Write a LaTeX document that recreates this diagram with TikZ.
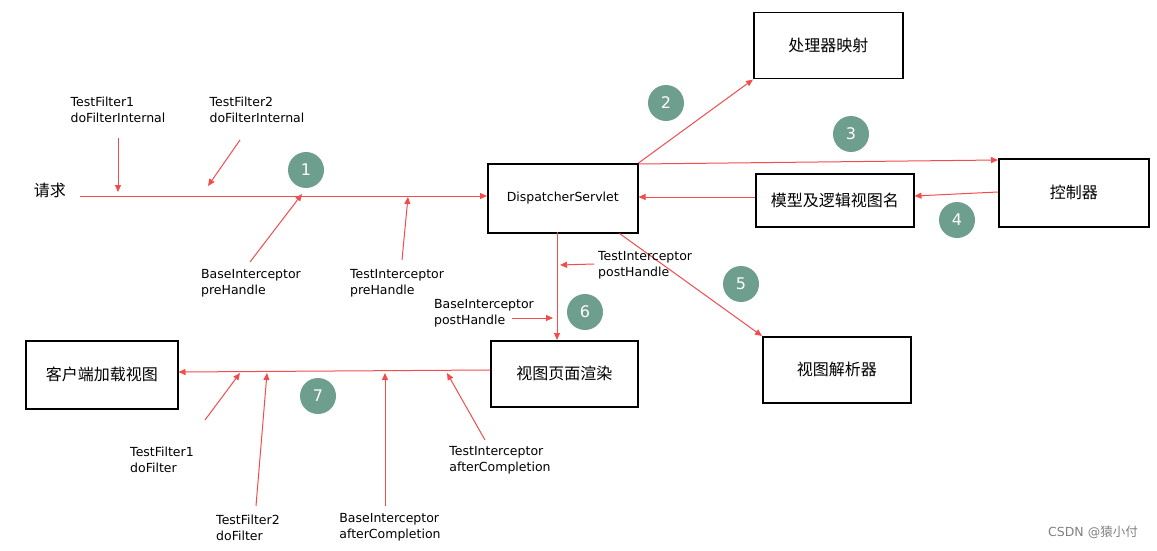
\documentclass[tikz,border=0pt]{standalone}
\usepackage{fontspec}
\setmainfont{DejaVu Sans}
\newfontfamily\cjk{Noto Sans CJK SC}
\usetikzlibrary{arrows.meta}
\definecolor{ar}{HTML}{F24C4C}
\definecolor{gc}{HTML}{6E9E8E}
\begin{document}
\begin{tikzpicture}[x=1pt,y=-1pt,
 box/.style={draw,line width=1.5pt,anchor=north west,inner sep=0pt},
 lab/.style={font=\fontsize{12.5}{15.5}\selectfont,align=left,inner sep=1pt},
 cn/.style={font=\cjk\fontsize{16}{19}\selectfont},
 num/.style={circle,fill=gc,text=white,minimum size=36pt,inner sep=0pt,font=\fontsize{16}{19}\selectfont},
 arr/.style={draw=ar,line width=1pt,-{Triangle[length=7pt,width=6pt]}}]
\useasboundingbox (0,0) rectangle (1157,551);
\node[box,minimum width=150pt,minimum height=69pt,font=\fontsize{12.5}{15}\selectfont] (ds) at (487,163) {DispatcherServlet};
\node[box,minimum width=149pt,minimum height=66pt,cn] (hm) at (753,12) {处理器映射};
\node[box,minimum width=150pt,minimum height=68pt,cn] (ctl) at (998,158) {控制器};
\node[box,minimum width=158pt,minimum height=53pt,cn] (mv) at (755,173) {模型及逻辑视图名};
\node[box,minimum width=148pt,minimum height=66pt,cn] (vr) at (762,336) {视图解析器};
\node[box,minimum width=147pt,minimum height=66pt,cn] (vp) at (490,340) {视图页面渲染};
\node[box,minimum width=152pt,minimum height=68pt,cn] (cl) at (25,340) {客户端加载视图};
\node[cn] (req) at (50,190) {请求};
\node[num] (n1) at (306,170) {1};
\node[num] (n2) at (666,103) {2};
\node[num] (n3) at (851,134) {3};
\node[num] (n4) at (957,220) {4};
\node[num] (n5) at (741,284) {5};
\node[num] (n6) at (585,312) {6};
\node[num] (n7) at (318,396) {7};
\coordinate (rs) at (80,196);
\draw[arr] (rs) -- (ds.west|-rs);
\draw[arr] (ds.north east) -- (hm.south west);
\draw[arr] ([yshift=-1pt]ds.north east) -- (ctl.west|-160,160);
\draw[arr] (ctl.west|-0,192) -- (mv.east|-0,196);
\draw[arr] (mv.west|-0,197) -- (ds.east|-0,197);
\draw[arr] ([xshift=-19pt]ds.south east) -- (vr.north west);
\draw[arr] (557,232) -- (557,340);
\draw[arr] (vp.west|-0,370) -- (cl.east|-0,372);
\node[lab] (t1) at (118,110) {TestFilter1\\doFilterInternal};
\node[lab] (t2) at (257,110) {TestFilter2\\doFilterInternal};
\node[lab] (b1) at (251,283) {BaseInterceptor\\preHandle};
\node[lab] (ti1) at (397,283) {TestInterceptor\\preHandle};
\node[lab,anchor=west] (ti2) at (597,265) {TestInterceptor\\postHandle};
\node[lab] (b2) at (484,313) {BaseInterceptor\\postHandle};
\node[lab] (f1) at (162,460) {TestFilter1\\doFilter};
\node[lab] (f2) at (248,528) {TestFilter2\\doFilter};
\node[lab] (b3) at (390,527) {BaseInterceptor\\afterCompletion};
\node[lab] (ti3) at (500,460) {TestInterceptor\\afterCompletion};
\draw[arr] (118,138) -- (118,192);
\draw[arr] (240,140) -- (208,186);
\draw[arr] (250,262) -- (302,194);
\draw[arr] (402,260) -- (408,197);
\draw[arr] (594,264) -- (560,265);
\draw[arr] (512,318) -- (553,318);
\draw[arr] (205,420) -- (240,373);
\draw[arr] (256,506) -- (267,373);
\draw[arr] (385,506) -- (385,373);
\draw[arr] (485,440) -- (447,373);
\node[font=\fontsize{12.5}{14}\selectfont,text=gray,inner sep=0pt] (wm) at (1093,532) {CSDN @{\cjk 猿小付}};
\end{tikzpicture}
\end{document}
